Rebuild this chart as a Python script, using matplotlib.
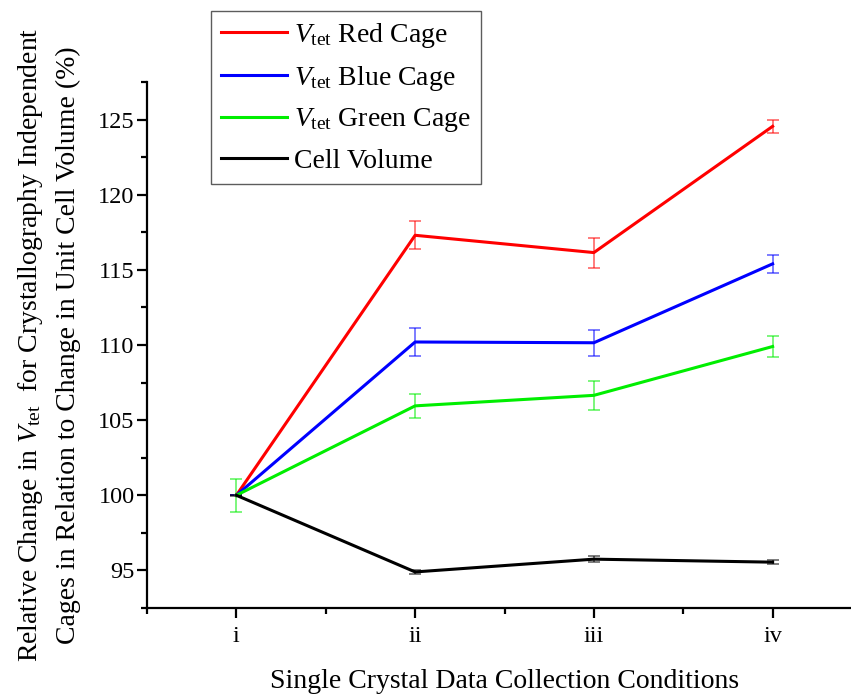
import matplotlib
matplotlib.use("Agg")
import matplotlib.pyplot as plt
from matplotlib.ticker import MultipleLocator

plt.rcParams["font.family"] = ["Liberation Serif", "DejaVu Serif"]
plt.rcParams["mathtext.fontset"] = "custom"
plt.rcParams["mathtext.rm"] = "Liberation Serif"
plt.rcParams["mathtext.it"] = "Liberation Serif:italic"

conditions = ["i", "ii", "iii", "iv"]
x = [1, 2, 3, 4]

red = [100.0, 117.3, 116.15, 124.55]
red_err = [0.0, 0.92, 1.0, 0.45]
blue = [100.0, 110.2, 110.15, 115.4]
blue_err = [0.0, 0.92, 0.85, 0.62]
green = [100.0, 105.95, 106.65, 109.9]
green_err = [1.1, 0.78, 0.95, 0.7]
cell = [100.0, 94.9, 95.75, 95.55]
cell_err = [0.05, 0.15, 0.2, 0.12]

series = [
    (red, red_err, "#ff0000", r"$V_{\mathrm{tet}}$ Red Cage"),
    (blue, blue_err, "#0000ff", r"$V_{\mathrm{tet}}$ Blue Cage"),
    (green, green_err, "#00ee00", r"$V_{\mathrm{tet}}$ Green Cage"),
    (cell, cell_err, "#000000", "Cell Volume"),
]

fig = plt.figure(figsize=(8.51, 6.95), dpi=100)
ax = fig.add_axes([147 / 851, 87 / 695, 715 / 851, 526 / 695])

handles = []
for vals, errs, col, lab in series:
    ax.errorbar(x, vals, yerr=errs, fmt="none", ecolor=col, alpha=0.6,
                elinewidth=1.2, capsize=4, capthick=1.2, zorder=2)
    h, = ax.plot(x, vals, color=col, lw=2.2, label=lab, zorder=3)
    handles.append(h)

ax.set_xlim(0.5, 4.5)
ax.set_ylim(92.5, 127.5)
ax.set_xticks(x)
ax.set_xticklabels(conditions)
ax.xaxis.set_minor_locator(MultipleLocator(0.5))
ax.yaxis.set_major_locator(MultipleLocator(5))
ax.yaxis.set_minor_locator(MultipleLocator(2.5))

for side in ("top", "right"):
    ax.spines[side].set_visible(False)
for side in ("left", "bottom"):
    ax.spines[side].set_linewidth(1.6)

ax.tick_params(axis="both", which="major", direction="out", length=7,
               width=1.6, labelsize=17.5)
ax.tick_params(axis="y", which="major", pad=2)
ax.tick_params(axis="x", which="major", pad=6)
ax.tick_params(axis="both", which="minor", direction="out", length=4,
               width=1.6)

ax.set_xlabel("Single Crystal Data Collection Conditions", fontsize=20,
              labelpad=16)
ax.set_ylabel("Relative Change in $V_{\\mathrm{tet}}$  for Crystallography Independent\n"
              "Cages in Relation to Change in Unit Cell Volume (%)",
              fontsize=20, linespacing=1.6)
ax.yaxis.set_label_coords(-0.092, 0.5)

leg = fig.legend(handles=handles, loc="upper left",
                 bbox_to_anchor=(211 / 851, 1 - 11 / 695),
                 borderaxespad=0.0,
                 fontsize=20, frameon=True, fancybox=False,
                 handlelength=2.4, handletextpad=0.25, borderpad=0.35,
                 labelspacing=0.5)
leg.get_frame().set_edgecolor("#333333")
leg.get_frame().set_linewidth(1.0)

fig.savefig("out.png", dpi=100)
